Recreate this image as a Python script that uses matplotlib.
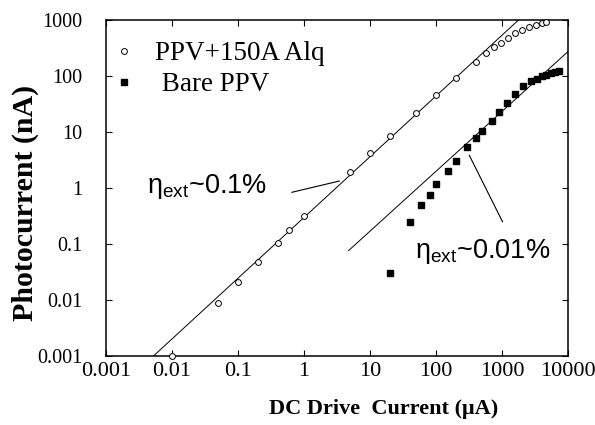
import matplotlib
matplotlib.use("Agg")
import matplotlib.pyplot as plt

# data (log-log)
alq_x = [0.01, 0.05, 0.1, 0.2, 0.4, 0.6, 1, 5, 10, 20, 50, 100, 200, 400,
         580, 770, 980, 1230, 1600, 2000, 2600, 3300, 4000, 4700]
alq_y = [0.001, 0.009, 0.021, 0.048, 0.106, 0.176, 0.31, 1.93, 4.2, 8.5, 22,
         46, 92, 180, 260, 334, 393, 470, 580, 660, 740, 830, 880, 910]

bare_x = [20, 40, 60, 80, 100, 150, 200, 300, 400, 500, 700, 900, 1200,
          1600, 2100, 2800, 3400, 4000, 4700, 5500, 6300, 7200]
bare_y = [0.03, 0.25, 0.5, 0.75, 1.2, 2.0, 3.0, 5.5, 7.8, 10.5, 16, 23, 33,
          48, 65, 80, 90, 98, 106, 113, 119, 123]

# fitted efficiency lines (end points)
fit1_x = [0.00526, 1787]
fit1_y = [0.001, 1000]
fit2_x = [4.74, 10000]
fit2_y = [0.076, 272]

# leader lines for the annotations
lead1_x = [0.657, 3.43]
lead1_y = [0.837, 1.33]
lead2_x = [320, 1020]
lead2_y = [3.84, 0.25]

ticks = [0.001, 0.01, 0.1, 1, 10, 100, 1000, 10000]
xtick_labels = ['0.001', '0.01', '0.1', '1', '10', '100', '1000', '10000']
yticks = [0.001, 0.01, 0.1, 1, 10, 100, 1000]
ytick_labels = ['0.001', '0.01', '0.1', '1', '10', '100', '1000']

serif = 'Liberation Serif'
sans = 'Liberation Sans'

fig = plt.figure(figsize=(5.95, 4.25), dpi=100)
ax = fig.add_axes([0.178, 0.1624, 0.7765, 0.7906])

ax.plot(fit1_x, fit1_y, color='black', lw=0.7)
ax.plot(fit2_x, fit2_y, color='black', lw=0.7)
ax.plot(lead1_x, lead1_y, color='black', lw=0.8)
ax.plot(lead2_x, lead2_y, color='black', lw=0.8)

ax.plot(alq_x, alq_y, 'o', mfc='white', mec='black', mew=0.7, ms=4.2,
        label='PPV+150A Alq', clip_on=False, zorder=3)
ax.plot(bare_x, bare_y, 's', mfc='black', mec='black', ms=4.2,
        label=' Bare PPV', zorder=3)

ax.set_xscale('log')
ax.set_yscale('log')
ax.set_xlim(0.001, 10000)
ax.set_ylim(0.001, 1000)
ax.set_xticks(ticks)
ax.set_xticklabels(xtick_labels, family=serif, fontsize=16)
ax.set_yticks(yticks)
ax.set_yticklabels(ytick_labels, family=serif, fontsize=14.5)
ax.minorticks_off()
ax.tick_params(which='major', direction='in', length=4.5, width=0.8,
               top=True, right=True)
ax.tick_params(axis='x', pad=4)
ax.tick_params(axis='y', pad=17)
for s in ax.spines.values():
    s.set_linewidth(1.1)

ax.set_xlabel('DC Drive  Current (\u03bcA)', family=serif, fontweight='bold',
              fontsize=16)
ax.set_ylabel('Photocurrent (nA)', family=serif, fontweight='bold',
              fontsize=21.5)
ax.xaxis.set_label_coords(0.602, -0.128)
ax.yaxis.set_label_coords(-0.145, 0.454)

ax.text(0.0042, 0.815, r'$\mathregular{\eta_{ext}}$~0.1%', family=sans,
        fontsize=19.5, va='baseline', ha='left')
ax.text(48.5, 0.0556, r'$\mathregular{\eta_{ext}}$~0.01%', family=sans,
        fontsize=19.5, va='baseline', ha='left')

leg = ax.legend(loc='upper left', bbox_to_anchor=(0.0097, 0.936),
                frameon=False, prop={'family': serif, 'size': 19.5},
                numpoints=1, handlelength=1.0, handletextpad=0.65,
                borderpad=0, borderaxespad=0, labelspacing=0.22)

fig.savefig('out.png', dpi=100)
